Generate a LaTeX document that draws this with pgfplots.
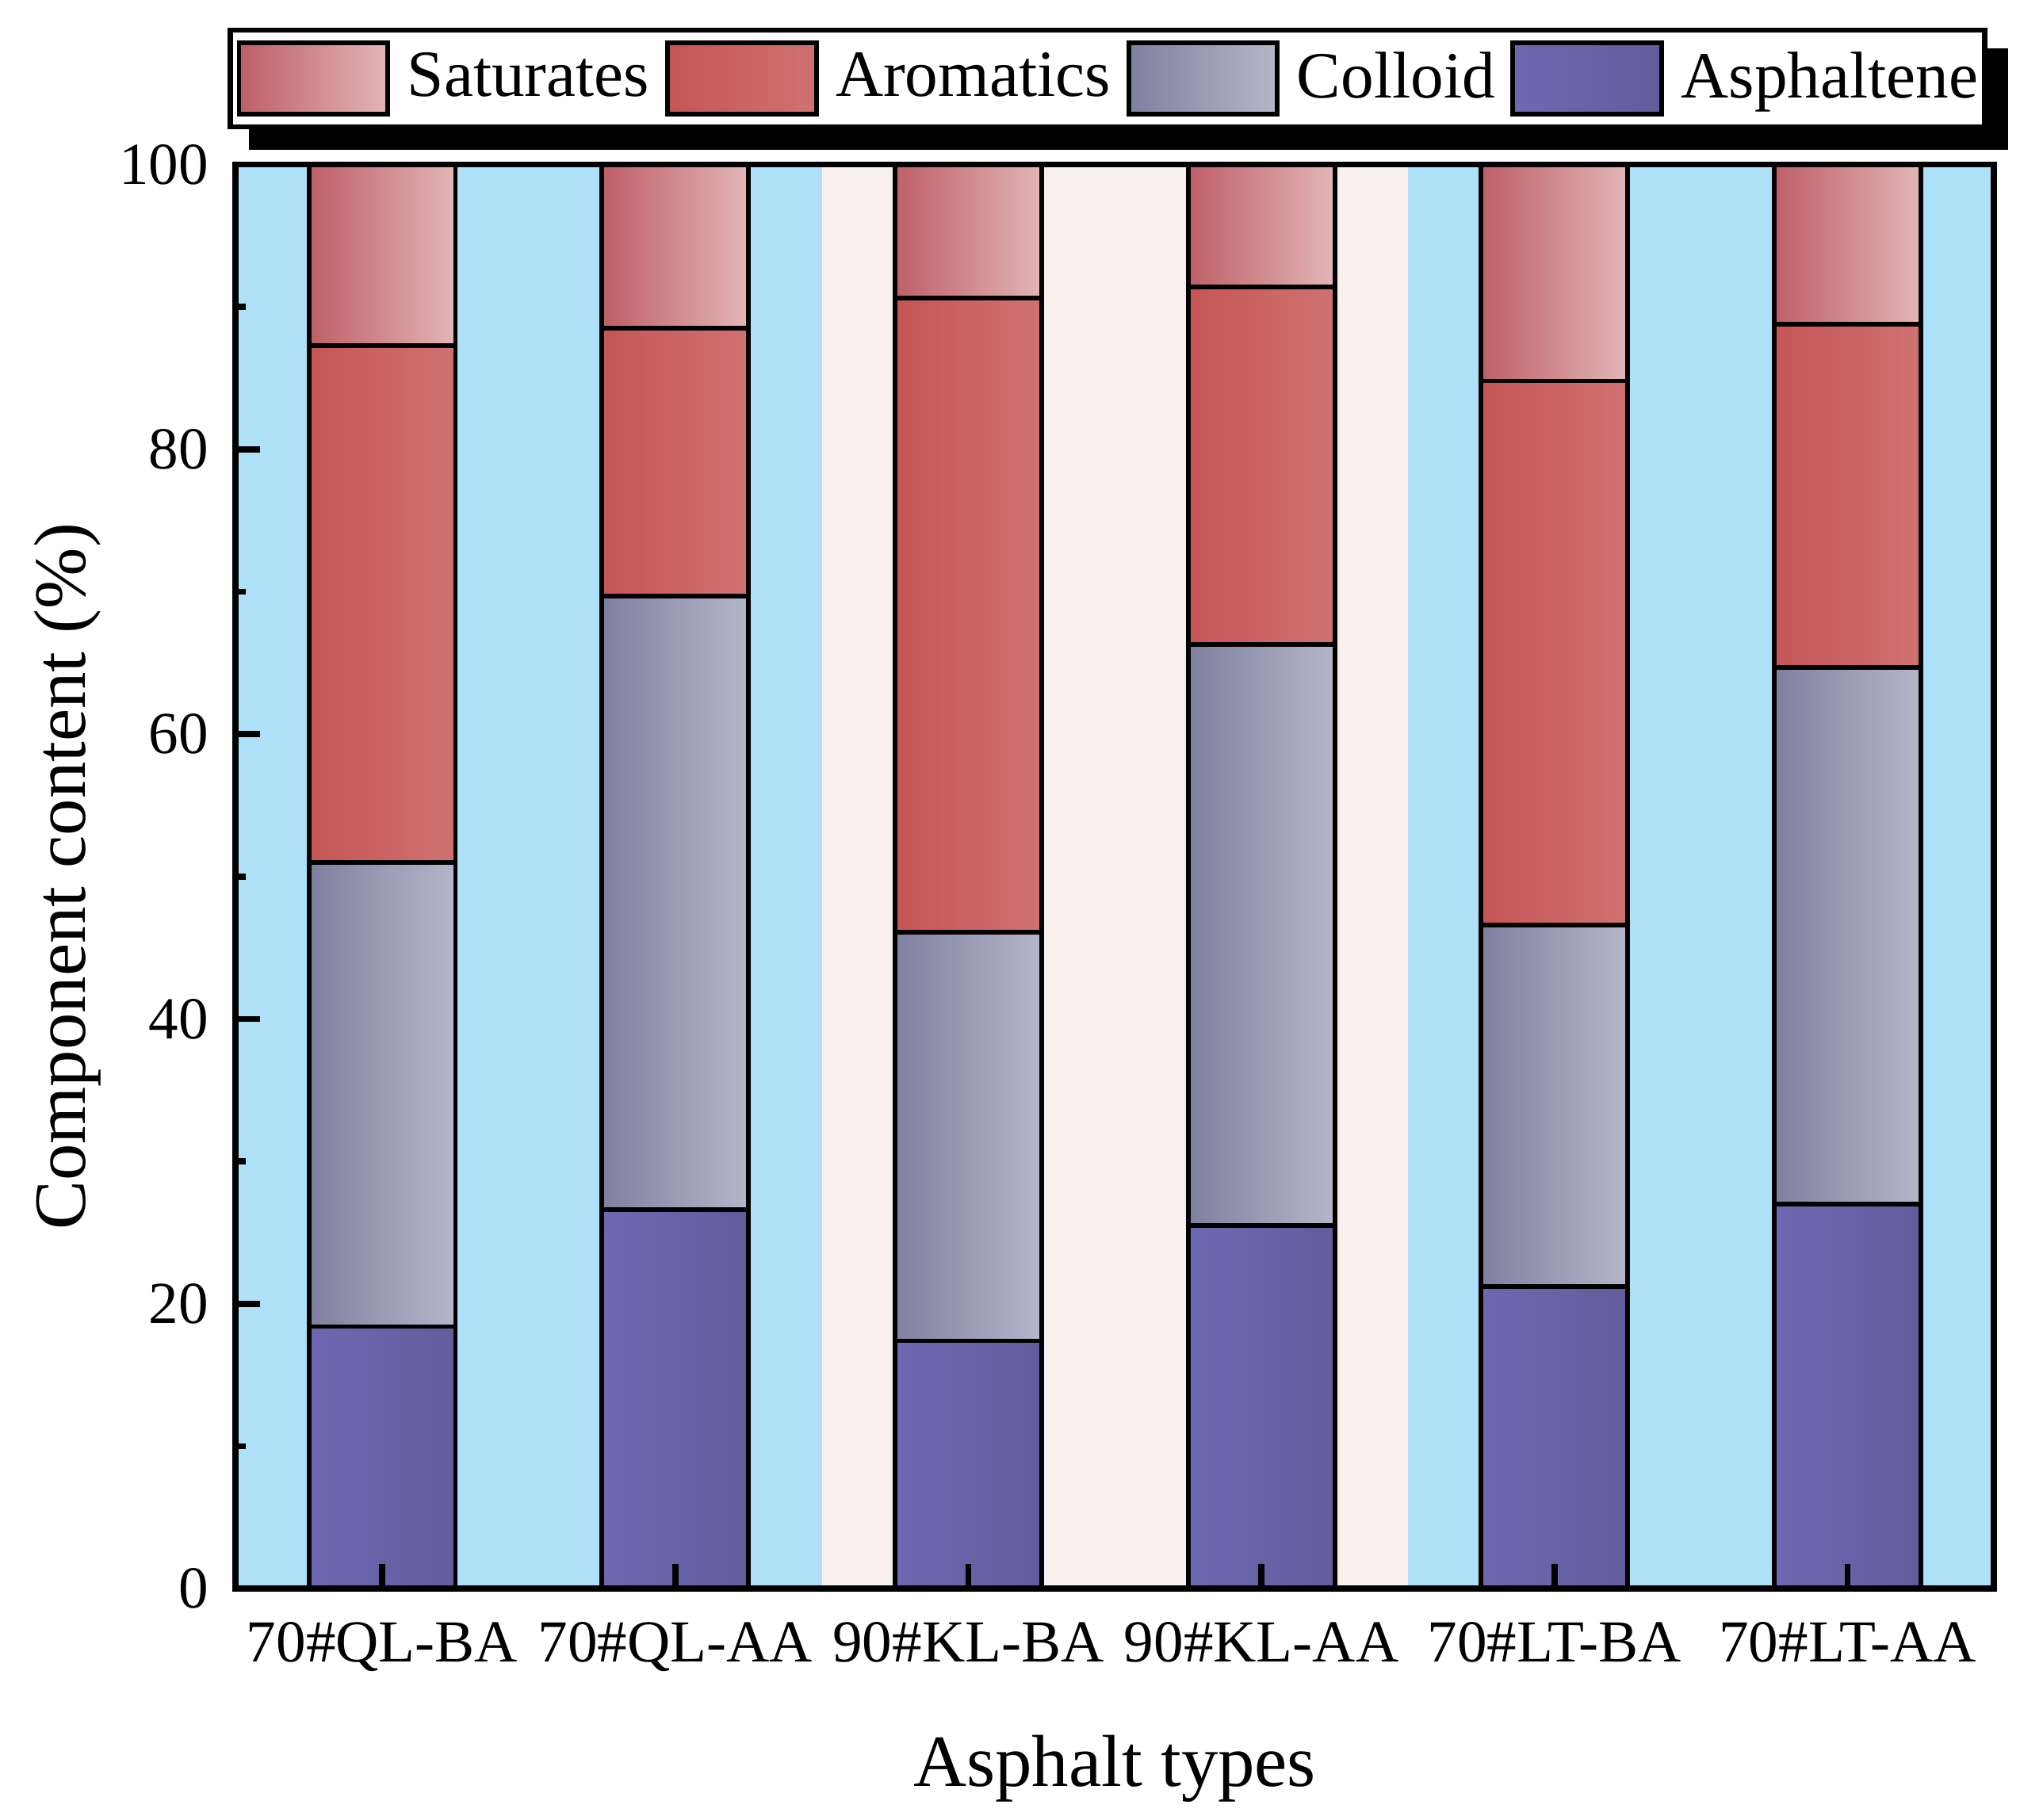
\documentclass[border=0pt]{standalone}
\usepackage{fontspec}
\setmainfont{Liberation Serif}
\usepackage{pgfplots}
\pgfplotsset{compat=1.18}
\usepackage{pgfplotstable}

\pgfdeclarelayer{shadow}
\pgfsetlayers{shadow,main}

\definecolor{bgblue}{HTML}{AEE1F8}
\definecolor{bgpink}{HTML}{F9F0EE}
\definecolor{satL}{HTML}{BE5F66}
\definecolor{satR}{HTML}{E2B6B8}
\definecolor{aroL}{HTML}{C55555}
\definecolor{aroR}{HTML}{D07272}
\definecolor{colL}{HTML}{7E809F}
\definecolor{colR}{HTML}{B6B6CA}
\definecolor{aspL}{HTML}{6E68B2}
\definecolor{aspR}{HTML}{625C9C}

% component contents (%), from the bottom of each bar
\pgfplotstableread{
x asph coll arom sat
1 18.4 32.6 36.3 12.7
2 26.6 43.1 18.8 11.5
3 17.4 28.7 44.5 9.4
4 25.5 40.8 25.1 8.6
5 21.2 25.4 38.2 15.2
6 27.0 37.7 24.1 11.2
}\comps

\pgfplotsset{seg/.style={draw=black, line width=0.9pt, forget plot}}

\begin{document}
\begin{tikzpicture}
% background bands behind the plot area (axis is 339.5pt x 275pt at the origin)
\fill[bgblue] (0pt,0pt) rectangle (113.17pt,275pt);
\fill[bgpink] (113.17pt,0pt) rectangle (226.33pt,275pt);
\fill[bgblue] (226.33pt,0pt) rectangle (339.5pt,275pt);
\begin{axis}[
  at={(0,0)}, anchor=south west,
  scale only axis, width=339.5pt, height=275pt,
  axis on top,
  ybar, bar width=0.5, bar shift=0pt,
  xmin=0.5, xmax=6.5, ymin=0, ymax=100,
  xtick={1,...,6},
  xticklabels={70\#QL-BA,70\#QL-AA,90\#KL-BA,90\#KL-AA,70\#LT-BA,70\#LT-AA},
  ytick={0,20,...,100}, minor ytick={10,30,...,90},
  tick align=inside, xtick pos=bottom, ytick pos=left,
  major tick length=4.75pt, minor tick length=2pt,
  tick style={black, line width=1.2pt},
  axis line style={line width=1.2pt},
  /pgf/number format/assume math mode=true,
  ticklabel style={font=\fontsize{11.5}{13}\selectfont},
  xticklabel style={yshift=-3pt},
  yticklabel style={xshift=-1.7pt},
  xlabel={Asphalt types},
  ylabel={Component content (\%)},
  label style={font=\fontsize{14.2}{17}\selectfont},
  xlabel style={at={(axis description cs:0.5,0)}, anchor=center, yshift=-34.75pt},
  ylabel style={at={(axis description cs:0,0.5)}, anchor=center, yshift=32.5pt},
  legend columns=4,
  legend image code/.code={\draw[#1] (0pt,-6.875pt) rectangle (28.75pt,6.875pt);},
  legend style={name=leg, at={(axis description cs:0,1)}, anchor=south west,
    xshift=-1.5pt, yshift=6.75pt, draw=black, line width=1pt, fill=white,
    inner xsep=1.2pt, inner ysep=2pt,
    font=\fontsize{12.75}{15}\selectfont,
    nodes={inner sep=0pt},
    /tikz/every odd column/.append style={column sep=3.3pt},
    /tikz/every even column/.append style={column sep=3pt}},
]
% one plot per bar segment, so that each bar gets its own shading;
% segments are drawn from 0 up to their cumulative top, tallest first
\pgfplotsinvokeforeach{0,...,5}{
  \addplot[seg, left color=satL, right color=satR,
    restrict expr to domain={\coordindex}{#1:#1}]
    table[x=x, y expr=\thisrow{asph}+\thisrow{coll}+\thisrow{arom}+\thisrow{sat}] {\comps};
  \addplot[seg, left color=aroL, right color=aroR,
    restrict expr to domain={\coordindex}{#1:#1}]
    table[x=x, y expr=\thisrow{asph}+\thisrow{coll}+\thisrow{arom}] {\comps};
  \addplot[seg, left color=colL, right color=colR,
    restrict expr to domain={\coordindex}{#1:#1}]
    table[x=x, y expr=\thisrow{asph}+\thisrow{coll}] {\comps};
  \addplot[seg, left color=aspL, right color=aspR,
    restrict expr to domain={\coordindex}{#1:#1}]
    table[x=x, y=asph] {\comps};
}
\addlegendimage{draw=black, line width=0.9pt, left color=satL, right color=satR}
\addlegendentry{Saturates}
\addlegendimage{draw=black, line width=0.9pt, left color=aroL, right color=aroR}
\addlegendentry{Aromatics}
\addlegendimage{draw=black, line width=0.9pt, left color=colL, right color=colR}
\addlegendentry{Colloid}
\addlegendimage{draw=black, line width=0.9pt, left color=aspL, right color=aspR}
\addlegendentry{Asphaltene}
\end{axis}
\begin{pgfonlayer}{shadow}
  \fill[black] ([shift={(4pt,-4pt)}]leg.south west) rectangle ([shift={(4pt,-4pt)}]leg.north east);
\end{pgfonlayer}
\path (-45.5pt,-43pt) rectangle (344.5pt,306.75pt);
\end{tikzpicture}
\end{document}
